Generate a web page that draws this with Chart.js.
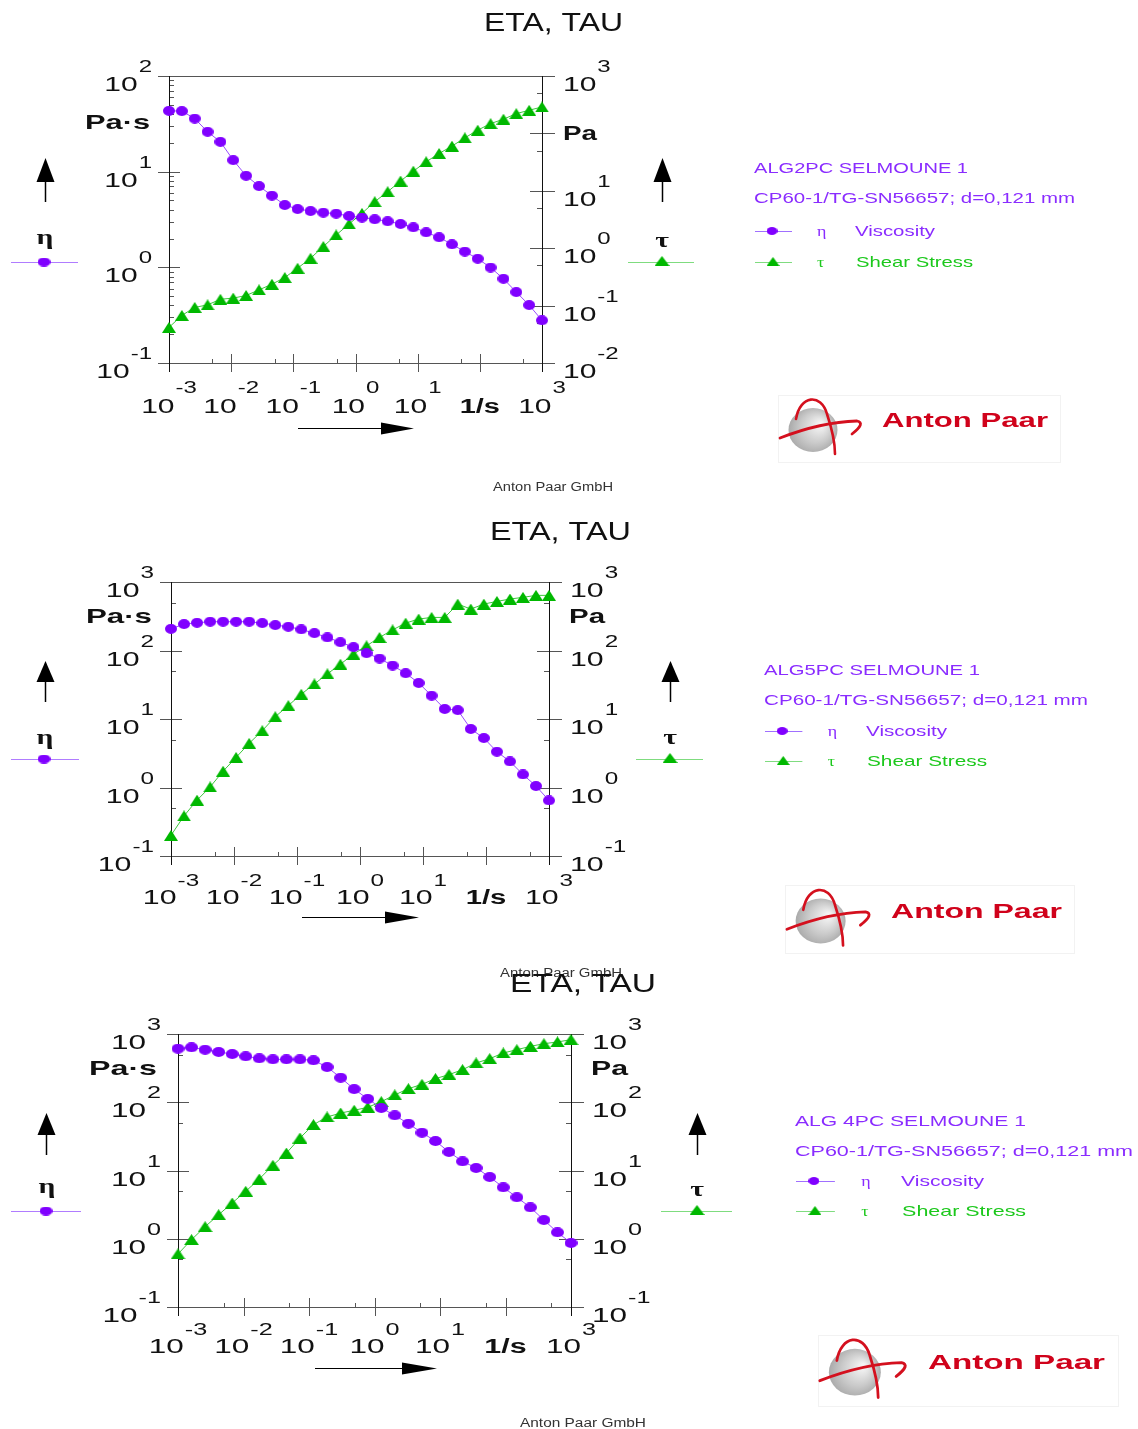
<!DOCTYPE html>
<html>
<head>
<meta charset="utf-8">
<script src="https://cdn.jsdelivr.net/npm/chart.js@4.4.0/dist/chart.umd.min.js"></script>
<style>
html, body { margin: 0; padding: 0; background: #fff; }
#page { position: relative; width: 1138px; height: 1429px; overflow: hidden; }
#page canvas { position: absolute; left: 0; top: 0; }
</style>
</head>
<body>
<div id="page">
  <canvas id="c1" width="1138" height="1429"></canvas>
  <canvas id="c2" width="1138" height="1429"></canvas>
  <canvas id="c3" width="1138" height="1429"></canvas>
</div>
<script>
// shear rate, 1/s (same ramp for the three samples)
var rate = [0.001, 0.00161, 0.00259, 0.00418, 0.00672, 0.0108, 0.0174, 0.0281, 0.0452, 0.0728,
            0.117, 0.189, 0.304, 0.489, 0.788, 1.27, 2.04, 3.29, 5.30, 8.53,
            13.7, 22.1, 35.6, 57.4, 92.4, 149, 240, 386, 621, 1000];

// ALG2PC SELMOUNE 1
var eta1 = [43.2, 43.0, 35.9, 26.1, 20.5, 13.2, 9.06, 7.07, 5.61, 4.48, 4.07, 3.88, 3.73, 3.64, 3.44,
            3.31, 3.18, 3.03, 2.84, 2.62, 2.32, 2.06, 1.74, 1.46, 1.23, 0.995, 0.759, 0.551, 0.403, 0.279];
var tau1 = [0.0417, 0.0674, 0.0929, 0.103, 0.129, 0.135, 0.150, 0.188, 0.236, 0.308, 0.448, 0.668, 1.07, 1.70, 2.64,
            4.05, 6.46, 9.64, 14.8, 22.0, 32.0, 44.7, 60.0, 83.6, 114, 148, 177, 221, 253, 289];

// ALG5PC SELMOUNE 1
var eta2 = [207, 243, 254, 263, 263, 263, 263, 251, 235, 222, 203, 179, 155, 132, 112,
            91.4, 76.4, 60.3, 46.6, 33.6, 21.9, 14.0, 13.5, 7.15, 5.27, 3.33, 2.40, 1.55, 1.05, 0.646];
var tau2 = [0.200, 0.385, 0.653, 1.02, 1.73, 2.75, 4.41, 6.75, 10.8, 15.7, 23.0, 32.5, 45.6, 63.1, 88.4,
            117, 155, 200, 251, 288, 304, 304, 476, 403, 476, 521, 564, 597, 638, 638];

// ALG 4PC SELMOUNE 1
var eta3 = [610, 638, 589, 545, 509, 471, 440, 425, 425, 425, 411, 328, 229, 156, 112,
            82.4, 64.3, 48.5, 35.8, 27.0, 18.7, 13.6, 10.9, 8.03, 5.66, 4.05, 2.88, 1.88, 1.24, 0.867];
var tau3 = [0.598, 0.970, 1.50, 2.25, 3.34, 4.95, 7.50, 11.9, 18.0, 29.9, 47.0, 60.8, 69.5, 76.2, 84.3,
            102, 128, 158, 183, 222, 254, 300, 376, 435, 527, 589, 659, 721, 764, 826];

var xExps = [-3, -2, -1, 0, 1, 2, 3];
var samples = ['ALG2PC SELMOUNE 1', 'ALG5PC SELMOUNE 1', 'ALG 4PC SELMOUNE 1'];
var geometry = 'CP60-1/TG-SN56657; d=0,121 mm';

var PURPLE = '#8000ff', GREEN = '#00b800';
var TXT_P = '#8a2cff', TXT_G = '#1cc81c';
var SANS = '"Liberation Sans", Arial, sans-serif';
var SERIF = '"Liberation Serif", "Times New Roman", serif';

// layout of each panel (pixels)
var panels = [
  { id: 'c1', eta: eta1, tau: tau1, name: samples[0], kx: 1,
    area: { l: 169, r: 542, t: 76, b: 363 },
    yl: [0.1, 100], yr: [0.01, 1000], leftMinor: [2, 3, 4, 5, 6, 7, 8, 9],
    leftExps: [2, 1, 0, -1], rightExps: [3, 1, 0, -1, -2],
    xLab: 50, xSup: 20,
    title: [484, 623, 31], unitL: [85, 150, 129], unitR: [563, 597, 140],
    upL: 45, upR: 662, upTip: 158, upBase: 182, upEnd: 202, glyph: 243.5, glyphT: 247, symY: 262,
    symL: [11, 78, 44], symR: [628, 694, 662],
    arrowX: [428, 298, 381, 414],
    leg: { x: 754, b1: 172.7, b2: 203.3, rv: 231, rs: 262, w1: 214, w2: 321, wv: 80, ws: 117 },
    logo: [882, 427, 166, 1], gmbh: [493, 613, 491] },
  { id: 'c2', eta: eta2, tau: tau2, name: samples[1], kx: 1.01,
    area: { l: 171, r: 549, t: 582, b: 856 },
    yl: [0.1, 1000], yr: [0.1, 1000], leftMinor: [5],
    leftExps: [3, 2, 1, 0, -1], rightExps: [3, 2, 1, 0, -1],
    xLab: 47.5, xSup: 18,
    title: [490, 631, 540], unitL: [86, 152, 623], unitR: [569, 605, 623],
    upL: 45, upR: 670, upTip: 661, upBase: 682, upEnd: 702, glyph: 743.5, glyphT: 744, symY: 759,
    symL: [11, 79, 44], symR: [636, 703, 670],
    arrowX: [917, 302, 385, 419],
    leg: { x: 764, b1: 675, b2: 705, rv: 731, rs: 761, w1: 216, w2: 324, wv: 81, ws: 120 },
    logo: [891, 918, 171, 1.02], gmbh: [500, 622, 977] },
  { id: 'c3', eta: eta3, tau: tau3, name: samples[2], kx: 1.05,
    area: { l: 178, r: 571, t: 1034, b: 1307 },
    yl: [0.1, 1000], yr: [0.1, 1000], leftMinor: [5],
    leftExps: [3, 2, 1, 0, -1], rightExps: [3, 2, 1, 0, -1],
    xLab: 46, xSup: 18,
    title: [510, 656, 992], unitL: [89, 157, 1075], unitR: [591, 628, 1075],
    upL: 46, upR: 697, upTip: 1113, upBase: 1135, upEnd: 1155, glyph: 1192.5, glyphT: 1196, symY: 1211,
    symL: [11, 81, 46], symR: [661, 732, 697],
    arrowX: [1368, 315, 402, 437],
    leg: { x: 795, b1: 1126, b2: 1156, rv: 1181, rs: 1211, w1: 231, w2: 338, wv: 83, ws: 124 },
    logo: [928, 1369, 177, 1.06], gmbh: [520, 646, 1427] }
];

function dotImg(w, h, color) {
  var c = document.createElement('canvas'); c.width = w; c.height = h;
  var g = c.getContext('2d'); g.fillStyle = color;
  g.beginPath(); g.ellipse(w / 2, h / 2, w / 2, h / 2, 0, 0, Math.PI * 2); g.fill();
  return c;
}
function triImg(w, h, color) {
  var c = document.createElement('canvas'); c.width = w; c.height = h;
  var g = c.getContext('2d'); g.fillStyle = color;
  g.beginPath(); g.moveTo(w / 2, 0); g.lineTo(w, h); g.lineTo(0, h); g.closePath(); g.fill();
  return c;
}

// text squeezed/stretched horizontally, like the exported picture
function txt(ctx, s, x, y, font, color, align, sx, fitW) {
  ctx.save();
  ctx.font = font; ctx.fillStyle = color; ctx.textBaseline = 'alphabetic'; ctx.textAlign = 'left';
  var m = ctx.measureText(s).width;
  if (fitW) sx = fitW / m;
  var w = m * sx;
  var x0 = align === 'right' ? x - w : align === 'center' ? x - w / 2 : x;
  ctx.translate(x0, y); ctx.scale(sx, 1); ctx.fillText(s, 0, 0);
  ctx.restore();
  return w;
}
function powLabel(ctx, e, x, base, align, sx, supOff) {
  var f1 = '20px ' + SANS, f2 = '16px ' + SANS, s = String(e);
  ctx.font = f1; var w1 = ctx.measureText('10').width * sx;
  ctx.font = f2; var w2 = ctx.measureText(s).width * sx;
  var tot = w1 + 1 + w2;
  var x0 = align === 'right' ? x - tot : align === 'center' ? x - tot / 2 : x;
  txt(ctx, '10', x0, base, f1, '#111', 'left', sx);
  txt(ctx, s, x0 + w1 + 1, base - supOff, f2, '#111', 'left', sx);
}
function hl(ctx, x1, x2, y) { y = Math.round(y) + 0.5; ctx.beginPath(); ctx.moveTo(x1, y); ctx.lineTo(x2, y); ctx.stroke(); }
function vl(ctx, x, y1, y2) { x = Math.round(x) + 0.5; ctx.beginPath(); ctx.moveTo(x, y1); ctx.lineTo(x, y2); ctx.stroke(); }

function arrowUp(ctx, x, tip, base, end) {
  ctx.strokeStyle = '#000'; ctx.lineWidth = 1.5; vl(ctx, x, base, end);
  ctx.fillStyle = '#000'; ctx.beginPath();
  ctx.moveTo(x + 0.5, tip); ctx.lineTo(x + 9.5, base); ctx.lineTo(x - 8.5, base); ctx.closePath(); ctx.fill();
}
function arrowRight(ctx, y, x0, hx, tip) {
  ctx.strokeStyle = '#000'; ctx.lineWidth = 1; hl(ctx, x0, hx, y);
  ctx.fillStyle = '#000'; ctx.beginPath();
  ctx.moveTo(tip, y + 0.5); ctx.lineTo(hx, y - 5.5); ctx.lineTo(hx, y + 6.5); ctx.closePath(); ctx.fill();
}

function drawLogo(ctx, tx, base, w, k) {
  var cx = tx - 69 * k, cy = base + 3 * k;
  ctx.save();
  ctx.strokeStyle = '#f2f2f2'; ctx.lineWidth = 1;
  ctx.strokeRect(Math.round(tx - 104 * k) + 0.5, Math.round(base - 32 * k) + 0.5, Math.round(104 * k + w + 12 * k), Math.round(67 * k));
  var gr = ctx.createRadialGradient(cx + 8 * k, cy - 6 * k, 2, cx, cy, 25 * k);
  gr.addColorStop(0, '#f4f4f4'); gr.addColorStop(0.6, '#c9c9c9'); gr.addColorStop(1, '#a8a8a8');
  ctx.fillStyle = gr; ctx.beginPath(); ctx.ellipse(cx, cy, 24.5 * k, 22 * k, 0, 0, Math.PI * 2); ctx.fill();
  ctx.translate(cx, cy); ctx.scale(k, k);
  ctx.strokeStyle = '#d4101e'; ctx.lineCap = 'round';
  ctx.lineWidth = 2.6; ctx.beginPath(); ctx.moveTo(-17, -11);
  ctx.bezierCurveTo(-13, -35, 8, -37, 14, -16); ctx.bezierCurveTo(19, -1, 22, 12, 22, 24); ctx.stroke();
  ctx.lineWidth = 2.8; ctx.beginPath(); ctx.moveTo(-33, 8);
  ctx.quadraticCurveTo(8, -8, 44, -9); ctx.quadraticCurveTo(53, -7, 39, 4); ctx.stroke();
  ctx.restore();
  txt(ctx, 'Anton Paar', tx, base, 'bold 20px ' + SANS, '#d0021b', 'left', 1, w);
}

function makePlugin(p) {
  return {
    id: 'frame' + p.id,
    beforeDatasetsDraw: function (chart) {
      var ctx = chart.ctx, x = chart.scales.x, yl = chart.scales.yL, yr = chart.scales.yR;
      var L = p.area.l, R = p.area.r, T = p.area.t, B = p.area.b;
      ctx.save(); ctx.lineWidth = 1;
      ctx.strokeStyle = '#555';
      hl(ctx, L - 11, R + 13, T); hl(ctx, L - 11, R + 13, B);
      xExps.forEach(function (e) { vl(ctx, x.getPixelForValue(Math.pow(10, e)), B - 9, B + 9); });
      xExps.slice(0, 6).forEach(function (e) { vl(ctx, x.getPixelForValue(5 * Math.pow(10, e)), B - 4, B); });
      for (var e = Math.round(Math.log10(p.yl[0])); e <= Math.round(Math.log10(p.yl[1])); e++) {
        hl(ctx, L - 11, L + 11, yl.getPixelForValue(Math.pow(10, e)));
        if (Math.pow(10, e) < p.yl[1]) p.leftMinor.forEach(function (m) { hl(ctx, L, L + 5, yl.getPixelForValue(m * Math.pow(10, e))); });
      }
      for (var f = Math.round(Math.log10(p.yr[0])); f <= Math.round(Math.log10(p.yr[1])); f++) {
        hl(ctx, R - 12, R + 13, yr.getPixelForValue(Math.pow(10, f)));
        if (Math.pow(10, f) < p.yr[1]) hl(ctx, R - 5, R, yr.getPixelForValue(5 * Math.pow(10, f)));
      }
      ctx.strokeStyle = '#111';
      vl(ctx, L, T, B + 9); vl(ctx, R, T, B + 9);
      ctx.restore();
    },
    afterDraw: function (chart) {
      var ctx = chart.ctx, x = chart.scales.x, yl = chart.scales.yL, yr = chart.scales.yR;
      var L = p.area.l, R = p.area.r, B = p.area.b, sx = 1.5 * p.kx;
      // tick labels
      p.leftExps.forEach(function (e) { powLabel(ctx, e, L - 17, yl.getPixelForValue(Math.pow(10, e)) + 15, 'right', sx, 19); });
      p.rightExps.forEach(function (e) { powLabel(ctx, e, R + 21, yr.getPixelForValue(Math.pow(10, e)) + 15, 'left', sx, 19); });
      xExps.forEach(function (e) {
        var px = x.getPixelForValue(Math.pow(10, e));
        if (e === 2) txt(ctx, '1/s', px, B + p.xLab, 'bold 20px ' + SANS, '#111', 'center', 1.45 * p.kx);
        else powLabel(ctx, e, px, B + p.xLab, 'center', sx, p.xSup);
      });
      txt(ctx, 'Pa\u00b7s', p.unitL[0], p.unitL[2], 'bold 21px ' + SANS, '#111', 'left', 1, p.unitL[1] - p.unitL[0]);
      txt(ctx, 'Pa', p.unitR[0], p.unitR[2], 'bold 21px ' + SANS, '#111', 'left', 1, p.unitR[1] - p.unitR[0]);
      // title
      txt(ctx, 'ETA, TAU', p.title[0], p.title[2], '25px ' + SANS, '#111', 'left', 1, p.title[1] - p.title[0]);
      // axis arrows and symbols
      arrowUp(ctx, p.upL, p.upTip, p.upBase, p.upEnd);
      arrowUp(ctx, p.upR, p.upTip, p.upBase, p.upEnd);
      arrowRight(ctx, p.arrowX[0], p.arrowX[1], p.arrowX[2], p.arrowX[3]);
      txt(ctx, '\u03b7', p.symL[2] + 1, p.glyph, 'bold 22px ' + SERIF, '#111', 'center', 1.35);
      txt(ctx, '\u03c4', p.symR[2], p.glyphT, 'bold 22px ' + SERIF, '#111', 'center', 1.35);
      ctx.save(); ctx.lineWidth = 1;
      ctx.strokeStyle = '#b07cff'; hl(ctx, p.symL[0], p.symL[1], p.symY - 0.5);
      ctx.strokeStyle = '#7fdc7f'; hl(ctx, p.symR[0], p.symR[1], p.symY - 0.5);
      ctx.restore();
      ctx.drawImage(dotImg(13, 9, PURPLE), p.symL[2] - 6.5, p.symY - 4.5);
      ctx.drawImage(triImg(15, 10, GREEN), p.symR[2] - 7.5, p.symY - 6);
      // legend
      var g = p.leg, k = p.kx, f = '15px ' + SANS;
      txt(ctx, p.name, g.x, g.b1, f, TXT_P, 'left', 1, g.w1);
      txt(ctx, geometry, g.x, g.b2, f, TXT_P, 'left', 1, g.w2);
      ctx.save(); ctx.lineWidth = 1;
      ctx.strokeStyle = '#a070ff'; hl(ctx, g.x + 1, g.x + 38 * k, g.rv - 0.5);
      ctx.strokeStyle = '#80dc80'; hl(ctx, g.x + 1, g.x + 38 * k, g.rs - 0.5);
      ctx.restore();
      ctx.drawImage(dotImg(11, 8, PURPLE), g.x + 18 * k - 5.5, g.rv - 4);
      ctx.drawImage(triImg(13, 9, GREEN), g.x + 19 * k - 6.5, g.rs - 5);
      txt(ctx, '\u03b7', g.x + 63 * k, g.rv + 5, '15px ' + SERIF, TXT_P, 'left', 1.2);
      txt(ctx, '\u03c4', g.x + 63 * k, g.rs + 4.5, '15px ' + SERIF, TXT_G, 'left', 1.2);
      txt(ctx, 'Viscosity', g.x + 101 * k, g.rv + 5, f, TXT_P, 'left', 1, g.wv);
      txt(ctx, 'Shear Stress', g.x + 102 * k, g.rs + 4.5, f, TXT_G, 'left', 1, g.ws);
      // logo and footer
      drawLogo(ctx, p.logo[0], p.logo[1], p.logo[2], p.logo[3]);
      txt(ctx, 'Anton Paar GmbH', p.gmbh[0], p.gmbh[2], '12px ' + SANS, '#333', 'left', 1, p.gmbh[1] - p.gmbh[0]);
    }
  };
}

panels.forEach(function (p) {
  var k = p.kx;
  new Chart(document.getElementById(p.id), {
    type: 'line',
    data: {
      datasets: [
        { label: 'Viscosity', yAxisID: 'yL',
          data: rate.map(function (r, i) { return { x: r, y: p.eta[i] }; }),
          borderColor: '#9a4cff', borderWidth: 1, pointStyle: dotImg(Math.round(12 * k), 10, PURPLE),
          pointRadius: 6, clip: false, tension: 0, fill: false },
        { label: 'Shear Stress', yAxisID: 'yR',
          data: rate.map(function (r, i) { return { x: r, y: p.tau[i] }; }),
          borderColor: '#3cc83c', borderWidth: 1, pointStyle: triImg(Math.round(14 * k), 11, GREEN),
          pointRadius: 6, clip: false, tension: 0, fill: false }
      ]
    },
    options: {
      responsive: false, animation: false, devicePixelRatio: 1,
      layout: { padding: { left: p.area.l, right: 1138 - p.area.r, top: p.area.t, bottom: 1429 - p.area.b } },
      plugins: { legend: { display: false }, tooltip: { enabled: false }, title: { display: false } },
      events: [],
      scales: {
        x: { type: 'logarithmic', min: 0.001, max: 1000, display: false },
        yL: { type: 'logarithmic', position: 'left', min: p.yl[0], max: p.yl[1], display: false },
        yR: { type: 'logarithmic', position: 'right', min: p.yr[0], max: p.yr[1], display: false }
      }
    },
    plugins: [makePlugin(p)]
  });
});
</script>
</body>
</html>
